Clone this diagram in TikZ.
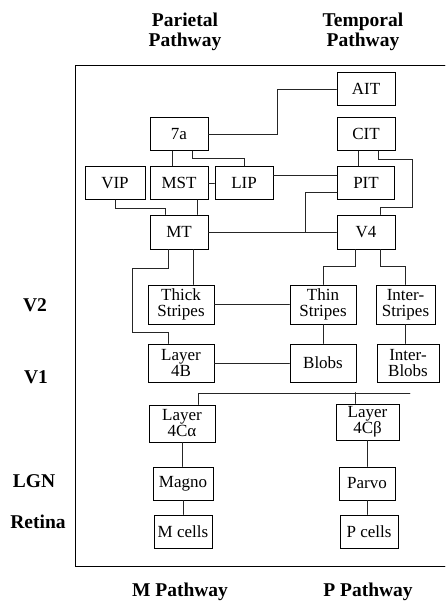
\documentclass[tikz,border=0pt]{standalone}
\usepackage{fontspec}
\setmainfont{Liberation Serif}
\begin{document}
\begin{tikzpicture}[x=1pt,y=-1pt,line cap=round,
  area/.style={draw,line width=.9pt,inner sep=0pt,minimum width=58pt,minimum height=33pt,align=center,font=\fontsize{17}{16}\selectfont},
  wide/.style={area,minimum width=66pt,minimum height=38pt},
  link/.style={line width=.7pt,black!85},
  head/.style={font=\fontsize{19.5}{20}\selectfont\bfseries,align=center}]
  \useasboundingbox (0,0) rectangle (445,603);
  \node[area] (AIT) at (366,89) {AIT}; \node[area] (CIT) at (366,134) {CIT}; \node[area] (A7) at (179,134) {7a};
  \node[area,minimum width=60pt] (VIP) at (115,183) {VIP}; \node[area] (MST) at (179,183) {MST}; \node[area] (LIP) at (244,183) {LIP}; \node[area,minimum width=57pt] (PIT) at (366,183) {PIT};
  \node[area,minimum height=34pt] (MT) at (179,232) {MT}; \node[area,minimum height=34pt] (V4) at (366,232) {V4};
  \node[wide,minimum height=39pt] (Thick) at (181,304.5) {Thick\\Stripes}; \node[wide,minimum height=39pt] (Thin) at (323,304.5) {Thin\\Stripes}; \node[wide,minimum width=59pt,minimum height=39pt] (InterS) at (405.5,304.5) {Inter-\\Stripes};
  \node[wide] (L4B) at (181,363) {Layer\\4B}; \node[wide] (Blobs) at (323,363) {Blobs}; \node[wide,minimum width=62pt] (InterB) at (408,363) {Inter-\\Blobs};
  \node[wide,minimum height=37pt] (L4Ca) at (182,423.5) {Layer\\4Cα}; \node[wide,minimum width=63pt,minimum height=36pt] (L4Cb) at (367.5,422) {Layer\\4Cβ};
  \node[area,minimum width=60pt] (Magno) at (183,483.5) {Magno}; \node[area,minimum width=56pt] (Parvo) at (367,483.5) {Parvo};
  \node[area] (Mcells) at (183,531.5) {M cells}; \node[area] (Pcells) at (369,531.5) {P cells};
  \node[head] (par) at (185,32) {Parietal\\Pathway}; \node[head] (tem) at (363,32) {Temporal\\Pathway};
  \node[head] (mpw) at (180,592) {M Pathway}; \node[head] (ppw) at (368,592) {P Pathway};
  \node[head] (v2) at (35,305) {V2}; \node[head] (v1) at (36,377) {V1}; \node[head] (lgn) at (34,481) {LGN}; \node[head] (ret) at (38,522) {Retina};
  \draw[line width=.9pt] (445,65) -- (75,65) -- (75,566) -- (445,566);
  \coordinate (j1) at (277,89); \coordinate (c1) at (412,207); \coordinate (m1) at (305,232); \coordinate (d1) at (132,332); \coordinate (e1) at (410,393);
  \draw[link] (A7.east) -| (j1) -- (AIT.west);
  \draw[link] ([xshift=-7pt]A7.south) -- ([xshift=-7pt]MST.north);
  \draw[link] ([xshift=13pt]A7.south) -- ++(0,7) -| (LIP.north);
  \draw[link] (MST.east) -- (LIP.west);
  \draw[link] ([xshift=18pt]MST.south) -- ([xshift=18pt]MT.north);
  \draw[link] (VIP.south) -- ++(0,8) -| ([xshift=-14pt]MT.north);
  \draw[link] ([yshift=8pt]LIP.east) -- ([yshift=8pt]PIT.west);
  \draw[link] (MT.east) -- (V4.west);
  \draw[link] ([yshift=-9pt]PIT.west) -| (m1);
  \draw[link] ([xshift=-8pt]CIT.south) -- ([xshift=-8pt]PIT.north);
  \draw[link] ([xshift=12pt]CIT.south) -- ++(0,8) -| (c1) -| ([xshift=14pt]V4.north);
  \draw[link] ([xshift=-11pt]V4.south) -- ++(0,17) -| (Thin.north);
  \draw[link] ([xshift=14pt]V4.south) -- ++(0,17) -| (InterS.north);
  \draw[link] ([xshift=14pt]MT.south) -- ([xshift=12pt]Thick.north);
  \draw[link] ([xshift=-11pt]MT.south) -- ++(0,19) -| (d1) -| ([xshift=-13pt]L4B.north);
  \draw[link] (Thick.east) -- (Thin.west); \draw[link] (Thin.south) -- (Blobs.north); \draw[link] (L4B.east) -- (Blobs.west);
  \draw[link] (InterS.south) -- (InterS.south |- InterB.north);
  \draw[link] ([xshift=16pt]L4Ca.north) |- (e1); \draw[link] ([xshift=-12pt]L4Cb.north) -- ++(0,-11);
  \draw[link] (L4Ca.south) -- (L4Ca.south |- Magno.north); \draw[link] (L4Cb.south) -- (L4Cb.south |- Parvo.north);
  \draw[link] (Magno.south) -- (Magno.south |- Mcells.north); \draw[link] (Parvo.south) -- (Parvo.south |- Pcells.north);
\end{tikzpicture}
\end{document}
